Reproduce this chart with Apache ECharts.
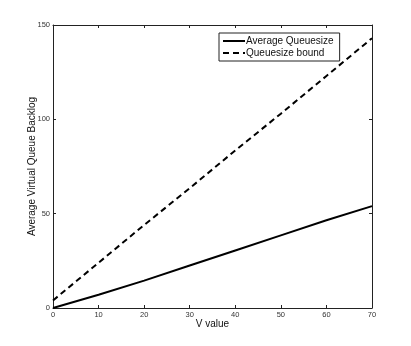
<!DOCTYPE html>
<html lang="en">
<head>
  <meta charset="UTF-8">
  <title>Average Virtual Queue Backlog</title>
  <script src="https://cdn.jsdelivr.net/npm/echarts@6/dist/echarts.min.js"></script>
</head>
<body style="margin:0;background:#fff;">
  <div id="chart" style="width: 411px; height: 346px;"></div>
<script>
  const vValues = [0, 10, 20, 30, 40, 50, 60, 70];
  const avgQueue = [0, 7, 14.5, 22.5, 30.5, 38.5, 46.5, 54];
  const queueBound = [4, 24, 44, 63.5, 83.5, 103, 123, 143];

  const chart = echarts.init(document.getElementById('chart'));
  const font = 'Liberation Sans, Arial, sans-serif';

  const pairs = (ys) => vValues.map((x, i) => [x, ys[i]]);

  const baseAxis = {
    axisLine: { show: true, onZero: false, lineStyle: { color: '#222', width: 1 } },
    axisTick: { show: true, inside: true, length: 3, lineStyle: { color: '#222' } },
    splitLine: { show: false },
    axisLabel: { color: '#333', fontSize: 7.5, fontFamily: font }
  };

  chart.setOption({
    animation: false,
    grid: { left: 53, right: 39, top: 25, bottom: 38 },
    legend: {
      orient: 'vertical',
      left: 219,
      top: 33,
      itemWidth: 22,
      itemHeight: 10,
      itemGap: 2,
      padding: [3, 6, 3, 3],
      backgroundColor: '#fff',
      borderColor: '#222',
      borderWidth: 1,
      borderRadius: 0,
      itemStyle: { opacity: 0 },
      textStyle: { color: '#111', fontSize: 10, fontFamily: font, padding: [0, 0, 0, -4] },
      data: ['Average Queuesize', 'Queuesize bound']
    },
    xAxis: [
      Object.assign({}, baseAxis, {
        type: 'value', min: 0, max: 70, interval: 10,
        name: 'V value', nameLocation: 'middle', nameGap: 11, nameMoveOverlap: false,
        nameTextStyle: { color: '#111', fontSize: 10, fontFamily: font },
        axisLabel: Object.assign({}, baseAxis.axisLabel, { margin: 3 })
      }),
      Object.assign({}, baseAxis, {
        type: 'value', min: 0, max: 70, interval: 10, position: 'top',
        axisLabel: { show: false }
      })
    ],
    yAxis: [
      Object.assign({}, baseAxis, {
        type: 'value', min: 0, max: 150, interval: 50,
        name: 'Average Virtual Queue Backlog', nameLocation: 'middle', nameGap: 16, nameMoveOverlap: false,
        nameTextStyle: { color: '#111', fontSize: 10, fontFamily: font },
        axisLabel: Object.assign({}, baseAxis.axisLabel, { margin: 3 })
      }),
      Object.assign({}, baseAxis, {
        type: 'value', min: 0, max: 150, interval: 50, position: 'right',
        axisLabel: { show: false }
      })
    ],
    series: [
      {
        name: 'Average Queuesize',
        type: 'line',
        symbol: 'none',
        data: pairs(avgQueue),
        lineStyle: { color: '#000', width: 2 },
        itemStyle: { color: '#000' },
        z: 3
      },
      {
        name: 'Queuesize bound',
        type: 'line',
        symbol: 'none',
        data: pairs(queueBound),
        lineStyle: { color: '#000', width: 2, type: [6, 4] },
        itemStyle: { color: '#000' },
        z: 2
      }
    ]
  });
</script>
</body>
</html>
